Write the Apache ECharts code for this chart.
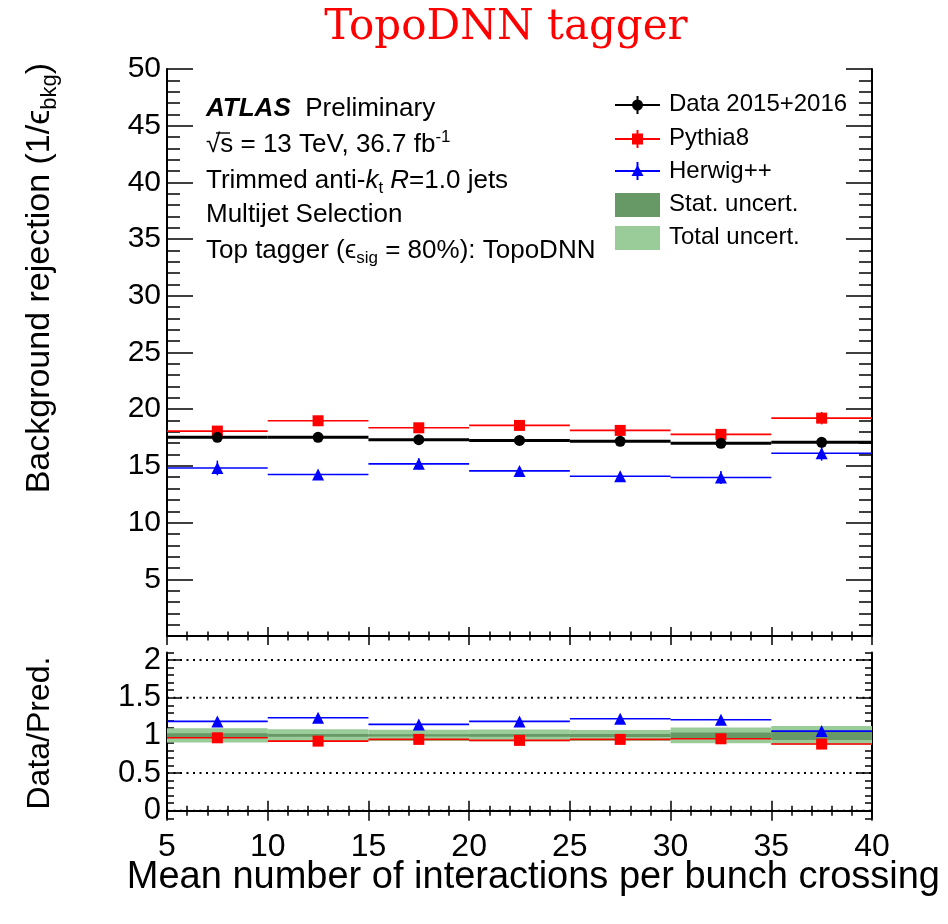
<!DOCTYPE html>
<html><head><meta charset="utf-8">
<script src="https://cdn.jsdelivr.net/npm/echarts@6/dist/echarts.min.js"></script>
<style>html,body{margin:0;padding:0;background:#fff}#c{width:948px;height:924px}</style>
</head><body><div id="c"></div>
<script>
// ---- data ----
const binEdges = [5, 10, 15, 20, 25, 30, 35, 40];
const dataValues = [17.52, 17.52, 17.31, 17.25, 17.17, 16.99, 17.08];
const dataErrors = [0.1, 0.1, 0.1, 0.1, 0.1, 0.12, 0.15];
const pythiaValues = [18.07, 18.98, 18.36, 18.57, 18.13, 17.78, 19.21];
const pythiaErrors = [0.25, 0.2, 0.2, 0.2, 0.2, 0.25, 0.55];
const herwigValues = [14.82, 14.24, 15.18, 14.56, 14.09, 13.98, 16.11];
const herwigErrors = [0.65, 0.25, 0.5, 0.3, 0.25, 0.58, 0.65];
const pythiaRatio = [0.968, 0.924, 0.947, 0.934, 0.947, 0.955, 0.885];
const pythiaRatioErrors = [0.015, 0.012, 0.012, 0.012, 0.012, 0.015, 0.03];
const herwigRatio = [1.186, 1.234, 1.146, 1.186, 1.221, 1.207, 1.057];
const herwigRatioErrors = [0.05, 0.02, 0.04, 0.025, 0.02, 0.045, 0.045];
const statUncert = [0.027, 0.018, 0.016, 0.018, 0.02, 0.037, 0.06];
const totalUncert = [0.095, 0.08, 0.075, 0.078, 0.073, 0.105, 0.125];
const ratioLabelValues = [0, 0.5, 1, 1.5, 2];
const ratioGridValues = [0, 0.5, 1, 1.5, 2];

const FONT = '"Liberation Sans", Arial, Helvetica, sans-serif';
const binCenters = binEdges.slice(0, -1).map((e, i) => (e + binEdges[i + 1]) / 2);
const ratioMinorValues = [];
for (let k = -1; k <= 21; k++) { if (k % 5 !== 0) ratioMinorValues.push(k / 10); }

function binRows(vals, errs) { return vals.map((v, i) => [binEdges[i], binEdges[i + 1], v, errs[i]]); }
function stepSeries(xi, yi, vals, errs, color, lw, z) {
  return {
    type: 'custom', xAxisIndex: xi, yAxisIndex: yi, z: z, silent: true,
    data: binRows(vals, errs), encode: { x: [0, 1], y: 2 },
    renderItem: function (params, api) {
      const lo = api.value(0), hi = api.value(1), v = api.value(2), e = api.value(3);
      const a = api.coord([lo, v]), b = api.coord([hi, v]);
      const c = (lo + hi) / 2;
      const t = api.coord([c, v + e]), d = api.coord([c, v - e]);
      return { type: 'group', children: [
        { type: 'line', shape: { x1: a[0], y1: a[1], x2: b[0], y2: b[1] }, style: { stroke: color, lineWidth: lw } },
        { type: 'line', shape: { x1: t[0], y1: t[1], x2: d[0], y2: d[1] }, style: { stroke: color, lineWidth: 1.5 } }
      ] };
    }
  };
}
function markerSeries(xi, yi, vals, symbol, size, color, z) {
  return { type: 'scatter', xAxisIndex: xi, yAxisIndex: yi, z: z, silent: true,
    symbol: symbol, symbolSize: size, itemStyle: { color: color, opacity: 1 },
    data: binCenters.map((c, i) => [c, vals[i]]) };
}
function bandSeries(unc, color, z) {
  return {
    type: 'custom', xAxisIndex: 2, yAxisIndex: 2, z: z, silent: true,
    data: binRows(unc.map(() => 1), unc), encode: { x: [0, 1], y: 2 },
    renderItem: function (params, api) {
      const lo = api.value(0), hi = api.value(1), v = api.value(2), e = api.value(3);
      const a = api.coord([lo, v + e]), b = api.coord([hi, v - e]);
      return { type: 'rect', shape: { x: a[0], y: a[1], width: b[0] - a[0], height: b[1] - a[1] }, style: { fill: color } };
    }
  };
}
const gridSeries = {
  type: 'custom', xAxisIndex: 2, yAxisIndex: 2, z: 1, silent: true,
  data: ratioGridValues.map(v => [5, 40, v]), encode: { x: [0, 1], y: 2 },
  renderItem: function (params, api) {
    const a = api.coord([api.value(0), api.value(2)]), b = api.coord([api.value(1), api.value(2)]);
    return { type: 'line', shape: { x1: a[0], y1: a[1], x2: b[0], y2: b[1] }, style: { stroke: '#000', lineWidth: 2, lineDash: [2, 4.5] } };
  }
};

const lineBlack = { color: '#000', width: 2 };
const tickStyle = { color: '#000', width: 1.5 };
function xAx(grid, pos, showLine, showLabel, major, minor) {
  return { gridIndex: grid, type: 'value', min: 5, max: 40, interval: 5, position: pos,
    axisLine: { show: showLine, lineStyle: lineBlack },
    axisTick: { show: true, inside: true, length: major, lineStyle: tickStyle },
    minorTick: { show: true, splitNumber: 5, length: minor, lineStyle: tickStyle },
    axisLabel: { show: showLabel, color: '#000', fontSize: 32, fontFamily: FONT, margin: 13 },
    splitLine: { show: false } };
}
function yMain(pos, showLabel) {
  return { gridIndex: 0, type: 'value', min: 0, max: 50, interval: 5, position: pos,
    axisLine: { show: true, lineStyle: lineBlack },
    axisTick: { show: true, inside: true, length: 26, lineStyle: tickStyle },
    minorTick: { show: true, splitNumber: 5, length: 13, lineStyle: tickStyle },
    axisLabel: { show: showLabel, color: '#000', fontSize: 30, fontFamily: FONT, margin: 6,
      formatter: v => (v === 0 ? '' : String(v)) },
    splitLine: { show: false } };
}
function yRatio(pos, major) {
  return { gridIndex: 1, type: 'value', min: -0.1, max: 2.1, position: pos,
    axisLine: { show: major, lineStyle: lineBlack },
    axisTick: { show: true, inside: true, length: major ? 14 : 7, lineStyle: tickStyle,
      customValues: major ? ratioLabelValues : ratioMinorValues },
    axisLabel: { show: major && pos === 'left', color: '#000', fontSize: 31, fontFamily: FONT, margin: 6,
      customValues: ratioLabelValues },
    splitLine: { show: false } };
}

const base = { fontFamily: FONT, fontSize: 26, fill: '#000' };
const richText = {
  a: { fontFamily: FONT, fontSize: 26, fontWeight: 'bold', fontStyle: 'italic', lineHeight: 32 },
  n: { fontFamily: FONT, fontSize: 26, lineHeight: 32 },
  l: { fontFamily: FONT, fontSize: 24, lineHeight: 32 },
  i: { fontFamily: FONT, fontSize: 26, fontStyle: 'italic', lineHeight: 32 },
  sub: { fontFamily: FONT, fontSize: 17, verticalAlign: 'bottom', lineHeight: 32 },
  sup: { fontFamily: FONT, fontSize: 17, verticalAlign: 'top', lineHeight: 30 }
};
function txt(x, y, text, extra) {
  return Object.assign({ type: 'text', x: x, y: y, silent: true,
    style: Object.assign({ text: text, rich: richText, textVerticalAlign: 'middle', textAlign: 'left' }, base) }, extra || {});
}
const legendX0 = 615, legendX1 = 660, legendXc = 637.5;
function legendLine(y, color, marker) {
  return { type: 'group', silent: true, children: [
    { type: 'line', shape: { x1: legendX0, y1: y, x2: legendX1, y2: y }, style: { stroke: color, lineWidth: 2 } },
    { type: 'line', shape: { x1: legendXc, y1: y - 9, x2: legendXc, y2: y + 9 }, style: { stroke: color, lineWidth: 2 } },
    marker
  ] };
}

const option = {
  animation: false,
  backgroundColor: '#fff',
  grid: [
    { left: 167, top: 69, width: 705, height: 567 },
    { left: 167, top: 652.5, width: 705, height: 165.8 }
  ],
  xAxis: [
    xAx(0, 'bottom', false, false, 9, 4.5),
    xAx(0, 'top', true, false, 9, 4.5),
    xAx(1, 'bottom', true, true, 10, 5),
    xAx(1, 'top', true, false, 10, 5)
  ],
  yAxis: [
    yMain('left', true),
    yMain('right', false),
    yRatio('left', true),
    yRatio('left', false),
    yRatio('right', true),
    yRatio('right', false)
  ],
  series: [
    stepSeries(0, 0, herwigValues, herwigErrors, '#0000ff', 1.6, 3),
    stepSeries(0, 0, pythiaValues, pythiaErrors, '#ff0000', 1.6, 3),
    stepSeries(0, 0, dataValues, dataErrors, '#000000', 3, 4),
    markerSeries(0, 0, herwigValues, 'triangle', 12, '#0000ff', 5),
    markerSeries(0, 0, pythiaValues, 'rect', 11, '#ff0000', 5),
    markerSeries(0, 0, dataValues, 'circle', 11, '#000000', 6),
    gridSeries,
    bandSeries(totalUncert, '#99cc99', 2),
    bandSeries(statUncert, '#669966', 2),
    stepSeries(2, 2, herwigRatio, herwigRatioErrors, '#0000ff', 1.6, 3),
    stepSeries(2, 2, pythiaRatio, pythiaRatioErrors, '#ff0000', 1.6, 3),
    markerSeries(2, 2, herwigRatio, 'triangle', 12, '#0000ff', 5),
    markerSeries(2, 2, pythiaRatio, 'rect', 11, '#ff0000', 5)
  ],
  graphic: [
    { type: 'text', x: 506, y: 28, silent: true,
      style: { text: 'TopoDNN tagger', fill: '#ff0000', fontFamily: '"DejaVu Serif", "Liberation Serif", serif', fontSize: 42,
        textAlign: 'center', textVerticalAlign: 'middle' } },
    // info block
    txt(206, 109, '{a|ATLAS}{n|  Preliminary}'),
    txt(206, 145, '{n|√s = 13 TeV, 36.7 fb}{sup|-1}'),
    { type: 'line', silent: true, shape: { x1: 216, y1: 133, x2: 230, y2: 133 }, style: { stroke: '#000', lineWidth: 1.4 } },
    txt(206, 181, '{n|Trimmed anti-}{i|k}{sub|t}{n| }{i|R}{n|=1.0 jets}'),
    txt(206, 215, '{n|Multijet Selection}'),
    txt(206, 251, '{n|Top tagger (ϵ}{sub|sig}{n| = 80%): TopoDNN}'),
    // legend
    legendLine(105, '#000', { type: 'circle', shape: { cx: legendXc, cy: 105, r: 5.5 }, style: { fill: '#000' } }),
    legendLine(139, '#ff0000', { type: 'rect', shape: { x: legendXc - 5.5, y: 133.5, width: 11, height: 11 }, style: { fill: '#ff0000' } }),
    legendLine(171, '#0000ff', { type: 'polygon', shape: { points: [[legendXc, 165], [legendXc + 6, 176], [legendXc - 6, 176]] }, style: { fill: '#0000ff' } }),
    { type: 'rect', silent: true, shape: { x: legendX0, y: 193, width: 45, height: 24 }, style: { fill: '#669966' } },
    { type: 'rect', silent: true, shape: { x: legendX0, y: 226, width: 45, height: 24 }, style: { fill: '#99cc99' } },
    txt(669, 104, '{l|Data 2015+2016}'),
    txt(669, 138, '{l|Pythia8}'),
    txt(669, 171, '{l|Herwig++}'),
    txt(669, 204, '{l|Stat. uncert.}'),
    txt(669, 237, '{l|Total uncert.}'),
    // axis titles
    { type: 'text', x: 40, y: 63, rotation: Math.PI / 2, silent: true,
      style: { text: '{t|Background rejection (1/ϵ}{s|bkg}{t|)}', textAlign: 'right', textVerticalAlign: 'middle',
        rich: { t: { fontFamily: FONT, fontSize: 34, lineHeight: 42 }, s: { fontFamily: FONT, fontSize: 22, verticalAlign: 'bottom', lineHeight: 42 } } } },
    { type: 'text', x: 40, y: 733, rotation: Math.PI / 2, silent: true,
      style: { text: 'Data/Pred.', fontFamily: FONT, fontSize: 32, fill: '#000', textAlign: 'center', textVerticalAlign: 'middle' } },
    { type: 'text', x: 940, y: 878, silent: true,
      style: { text: 'Mean number of interactions per bunch crossing', fontFamily: FONT, fontSize: 38, fill: '#000', textAlign: 'right', textVerticalAlign: 'middle' } }
  ]
};
const chart = echarts.init(document.getElementById('c'), null, { renderer: 'canvas' });
chart.setOption(option);
</script></body></html>
